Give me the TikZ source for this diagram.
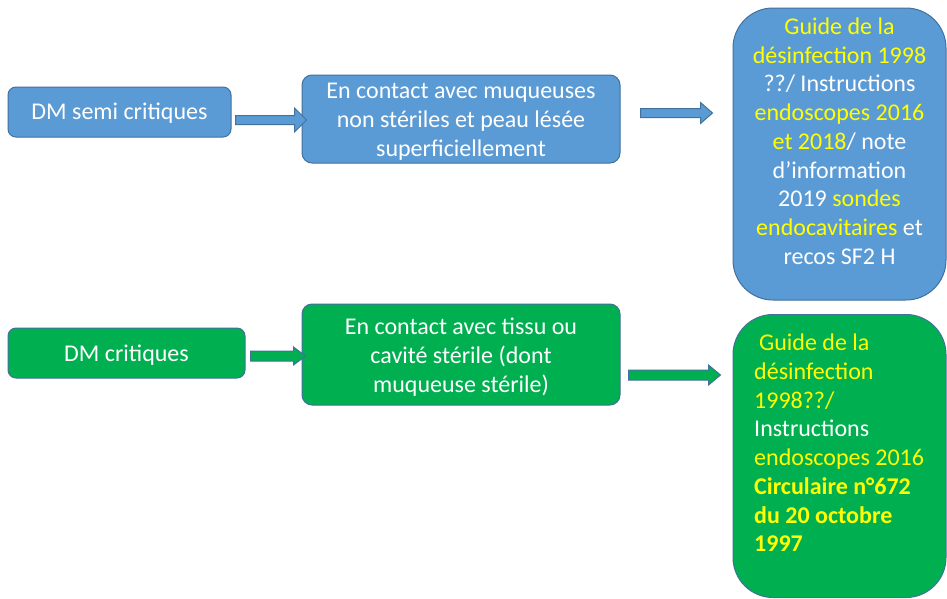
\documentclass[tikz,border=0pt]{standalone}
\usepackage{fontspec}
\setmainfont{Carlito}
\usetikzlibrary{calc}
\definecolor{blu}{HTML}{5B9BD5}
\definecolor{grn}{HTML}{00B050}
\definecolor{bordc}{HTML}{41719C}
\definecolor{yel}{HTML}{FFFF00}
\newcommand\blockarr[5]{%
  \path[draw=bordc, line width=1pt, fill=#3] let \p1=(#1), \p2=(#2) in
    (\x1,\y1+#4) -- (\x2-12pt,\y1+#4) -- (\x2-12pt,\y1+#5) -- (\x2,\y1)
    -- (\x2-12pt,\y1-#5) -- (\x2-12pt,\y1-#4) -- (\x1,\y1-#4) -- cycle;}
\tikzset{
  box/.style={draw=bordc, line width=1pt, rectangle, inner sep=0pt},
  txt/.style={inner sep=0pt, text=white, font=\fontsize{24}{28.75}\selectfont}
}
\begin{document}
\begin{tikzpicture}[x=1pt,y=-1pt]
\useasboundingbox[fill=white] (0,0) rectangle (947,598);
% top row
\node[box, fill=blu, rounded corners=8pt, minimum width=223pt, minimum height=50pt] (b1) at (119.5,112) {};
\node[txt] (b1t) at (119.5,113.5) {DM semi critiques};
\node[box, fill=blu, rounded corners=10pt, minimum width=318pt, minimum height=88pt] (b2) at (461,119) {};
\node[txt, align=center] (b2t) at (461,121.5)
  {En contact avec muqueuses\\non stériles et peau lésée\\superficiellement};
\node[box, fill=blu, rounded corners=40pt, minimum width=213pt, minimum height=292pt] (b3) at (839.5,154) {};
\node[txt, align=center] (b3t) at (839.5,141) {\color{yel}Guide de la\\\color{yel}désinfection 1998\\??/ Instructions\\
  \color{yel}endoscopes 2016\\\textcolor{yel}{et 2018}/ note\\d’information\\2019 \textcolor{yel}{sondes}\\
  \textcolor{yel}{endocavitaires} et\\recos SF2 H};
% bottom row
\node[box, fill=grn, rounded corners=8pt, minimum width=237pt, minimum height=50pt] (b4) at (126.5,353) {};
\node[txt] (b4t) at (126.5,355) {DM critiques};
\node[box, fill=grn, rounded corners=10pt, minimum width=318pt, minimum height=101pt] (b5) at (461,354.5) {};
\node[txt, align=center] (b5t) at (461,357)
  {En contact avec tissu ou\\cavité stérile (dont\\muqueuse stérile)};
\node[box, fill=grn, rounded corners=40pt, minimum width=213pt, minimum height=283pt] (b6) at (839.5,456) {};
\node[txt, align=left, anchor=west] (b6t) at (754,443) {\color{yel}\hspace*{5pt}Guide de la\\\color{yel}désinfection\\\color{yel}1998??/\\
  Instructions\\\color{yel}endoscopes 2016\\\color{yel}\bfseries Circulaire n°672\\\color{yel}\bfseries du 20 octobre\\\color{yel}\bfseries 1997};
% arrows
\coordinate (a1s) at ($(b1.east)+(4,8)$);
\coordinate (a1e) at ($(b2.west)+(5,1)$);
\coordinate (a2s) at ($(b2.east)+(20,-6)$);
\coordinate (a2e) at ($(b3.west)+(-20,-41)$);
\coordinate (a3s) at ($(b4.east)+(5,3)$);
\coordinate (a3e) at ($(b5.west)+(4,1.5)$);
\coordinate (a4s) at ($(b5.east)+(8,20.5)$);
\coordinate (a4e) at ($(b6.west)+(-12,-81)$);
\blockarr{a1s}{a1e}{blu}{4.5pt}{12pt}
\blockarr{a2s}{a2e}{blu}{4.5pt}{10.5pt}
\blockarr{a3s}{a3e}{grn}{5pt}{9pt}
\blockarr{a4s}{a4e}{grn}{5pt}{10pt}
\end{tikzpicture}
\end{document}
